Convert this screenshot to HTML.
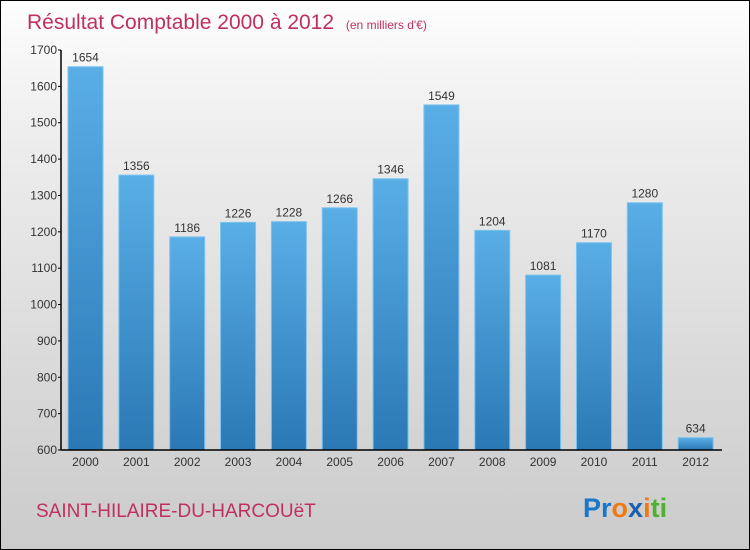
<!DOCTYPE html>
<html><head><meta charset="utf-8"><style>
body{margin:0}
#c{width:748px;height:548px;border:1px solid #000;background:linear-gradient(#fefefe,#f0f0f0 20%,#d8d8d8 70%,#cbcbcb);position:relative;overflow:hidden;font-family:"Liberation Sans",sans-serif}
</style></head><body>
<div id="c">
<svg width="748" height="548">
<defs><linearGradient id="bg" x1="0" y1="0" x2="0" y2="1"><stop offset="0" stop-color="#5aaee6"/><stop offset="1" stop-color="#2a78b4"/></linearGradient></defs>
<text x="26" y="28" font-size="21" fill="#c0305e">Résultat Comptable 2000 à 2012 <tspan font-size="12" dx="6">(en milliers d'€)</tspan></text>
<g id="plot"></g>
<text x="35" y="516" font-size="19" fill="#c0305e">SAINT-HILAIRE-DU-HARCOUëT</text>
<text x="582" y="516" font-size="27" font-weight="bold"><tspan fill="#1a78c8">Pr</tspan><tspan fill="#f07a10">o</tspan><tspan fill="#1a5fb0">x</tspan><tspan fill="#f07a10">i</tspan><tspan fill="#50b030">ti</tspan></text>
</svg></div>
<script>
const categories=["2000","2001","2002","2003","2004","2005","2006","2007","2008","2009","2010","2011","2012"];
const values=[1654,1356,1186,1226,1228,1266,1346,1549,1204,1081,1170,1280,634];
const ticks=[600,700,800,900,1000,1100,1200,1300,1400,1500,1600,1700];
const NS="http://www.w3.org/2000/svg";
const g=document.getElementById('plot');
const x0=60,x1=721,yB=449,yT=49,vmin=600,vmax=1700;
const y=v=>yB-(v-vmin)*(yB-yT)/(vmax-vmin);
const slot=(x1-x0)/categories.length;
function mk(t,a,txt){const e=document.createElementNS(NS,t);for(const k in a)e.setAttribute(k,a[k]);if(txt!==undefined)e.textContent=txt;g.appendChild(e);return e;}
values.forEach((v,i)=>{
 const bx=x0+i*slot+7;
 const r=mk('rect',{x:bx,y:y(v),width:35,height:yB-y(v),fill:'url(#bg)',stroke:'#7cc4f0','stroke-width':1});
 
 
 const l=mk('text',{x:bx+17.5,y:y(v)-5,'font-size':12,fill:'#333','text-anchor':'middle'},String(v));
 
 
 const c=mk('text',{x:bx+17.5,y:yB+16,'font-size':12,fill:'#333','text-anchor':'middle'},categories[i]);
 
 
});
ticks.forEach(t=>{
 mk('line',{x1:x0-3,x2:x0,y1:y(t),y2:y(t),stroke:'#000'});
 const e=mk('text',{x:x0-4,y:y(t)+4,'font-size':12,fill:'#333','text-anchor':'end'},String(t));
 
 
});
const ya=mk('line',{x1:x0,x2:x0,y1:yT,y2:yB,stroke:'#000','stroke-width':1.5});


const xa=mk('line',{x1:x0,x2:x1,y1:yB,y2:yB,stroke:'#000','stroke-width':1.5});


</script>
</body></html>
